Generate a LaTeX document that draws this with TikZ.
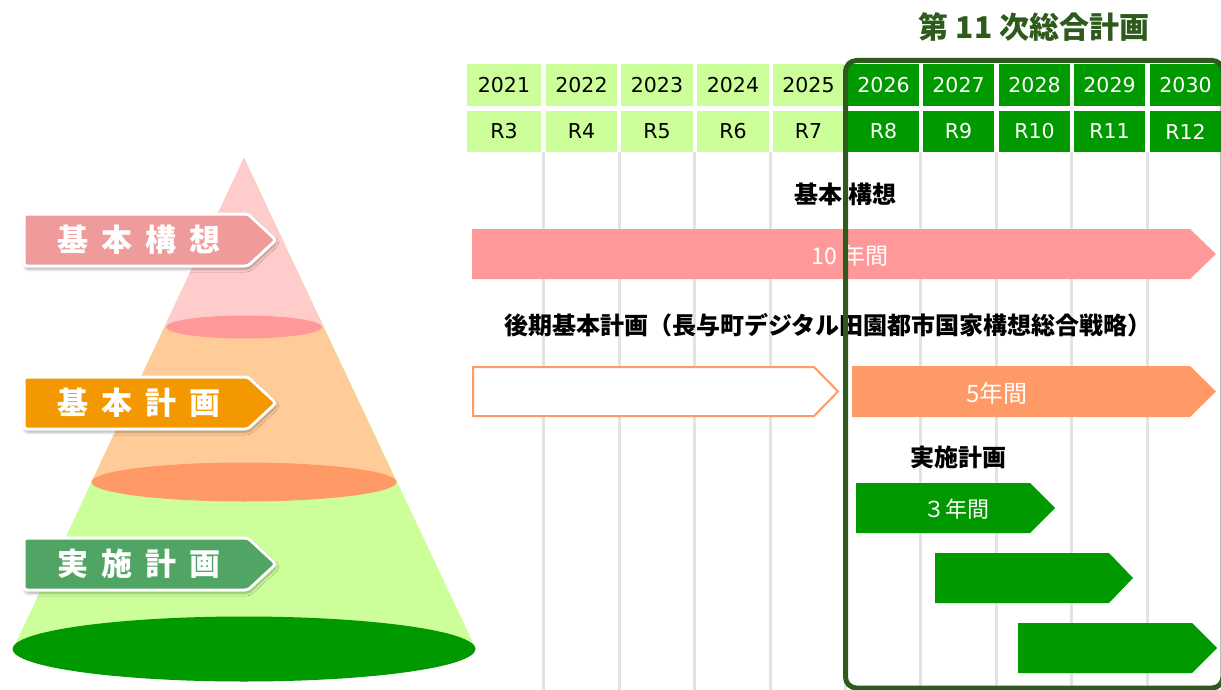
\documentclass[tikz,border=0pt]{standalone}
\usepackage{fontspec}
\newfontfamily\jp{Noto Sans CJK JP}
\newfontfamily\yr{DejaVu Sans}
\usetikzlibrary{shadows.blur}
\definecolor{lgreen}{HTML}{CCFF99}
\definecolor{dgreen}{HTML}{009900}
\definecolor{fgreen}{HTML}{2E5A1C}
\definecolor{pinkbar}{HTML}{FF9999}
\definecolor{pinklt}{HTML}{FFCCCC}
\definecolor{orangebar}{HTML}{FF9966}
\definecolor{orangelt}{HTML}{FFCC99}
\definecolor{tagpink}{HTML}{F09B9B}
\definecolor{tagorange}{HTML}{F39800}
\definecolor{taggreen}{HTML}{50A565}
\definecolor{gridgray}{HTML}{E3E3E3}
\tikzset{
  tagbox/.style={draw=white, line width=3, rounded corners=3,
    blur shadow={shadow xshift=1pt, shadow yshift=-3pt, shadow blur radius=3pt, shadow opacity=35}},
  tagtext/.style={text=white, font=\jp\bfseries\fontsize{31}{31}\selectfont, inner sep=0},
  yrtext/.style={font=\yr\fontsize{20.5}{20.5}\selectfont, inner sep=0},
  lbltext/.style={font=\jp\bfseries\fontsize{24}{24}\selectfont, inner sep=0},
  bartext/.style={text=white, font=\jp\fontsize{22}{22}\selectfont, inner sep=0},
}
\begin{document}
\begin{tikzpicture}[x=1pt,y=-1pt]
\useasboundingbox (0,0) rectangle (1221,690);
\clip (0,0) rectangle (1221,690);
% ---- cone ----
\fill[lgreen] (244,158) -- (13,649) -- (476,649) -- cycle;
\fill[dgreen] (244,649) ellipse [x radius=231.5, y radius=32.5];
\fill[orangelt] (244,158) -- (91.5,482) -- (396.5,482) -- cycle;
\fill[orangebar] (244,482) ellipse [x radius=152.5, y radius=19.5];
\fill[pinklt] (244,158) -- (164.5,327) -- (323.5,327) -- cycle;
\fill[pinkbar] (244,327) ellipse [x radius=78, y radius=11.5];
% ---- tags ----
\path[tagbox, fill=tagpink] (24,214) -- (248,214) -- (276,240) -- (248,266) -- (24,266) -- cycle;
\node[tagtext] (t1) at (139,240) {基\hspace{13pt}本\hspace{13pt}構\hspace{13pt}想};
\path[tagbox, fill=tagorange] (24,377) -- (248,377) -- (276,403) -- (248,429) -- (24,429) -- cycle;
\node[tagtext] (t2) at (139,403) {基\hspace{13pt}本\hspace{13pt}計\hspace{13pt}画};
\path[tagbox, fill=taggreen] (24,538) -- (248,538) -- (276,564) -- (248,590) -- (24,590) -- cycle;
\node[tagtext] (t3) at (139,564) {実\hspace{13pt}施\hspace{13pt}計\hspace{13pt}画};
% ---- grid lines ----
\foreach \gx in {543.5,619,694.5,770,845.5,920.5,996.5,1071.5,1147} {
  \draw[gridgray, line width=3] (\gx,152) -- (\gx,690);
}
% ---- header cells ----
\foreach \l/\r/\yy/\rr in {467/541/2021/R3, 546/617/2022/R4, 621/693/2023/R5, 697/769/2024/R6, 773/844/2025/R7} {
  \fill[lgreen] (\l,64) rectangle (\r,106);
  \fill[lgreen] (\l,111) rectangle (\r,152);
  \node[yrtext] at ({(\l+\r)/2},85.5) {\yy};
  \node[yrtext] at ({(\l+\r)/2},131.5) {\rr};
}
\foreach \l/\r/\yy/\rr in {848/919/2026/R8, 923/994/2027/R9, 999/1070/2028/R10, 1074/1145/2029/R11, 1150/1221/2030/R12} {
  \fill[dgreen] (\l,64) rectangle (\r,106);
  \fill[dgreen] (\l,111) rectangle (\r,152);
  \node[yrtext, text=white] at ({(\l+\r)/2},85.5) {\yy};
  \node[yrtext, text=white] at ({(\l+\r)/2},131.5) {\rr};
}
% ---- bars ----
\node[lbltext] (kk) at (845,194) {基本\hspace{6pt}構想};
\fill[pinkbar] (472,229) -- (1190,229) -- (1216,254) -- (1190,279) -- (472,279) -- cycle;
\node[bartext, font=\jp\fontsize{23}{23}\selectfont] (b1) at (850,256) {10 年間};
\node[lbltext] (kh) at (828,325) {後期基本計画（長与町デジタル田園都市国家構想総合戦略）};
\draw[orangebar, line width=2, fill=white] (473,367) -- (814,367) -- (838,391.5) -- (814,416) -- (473,416) -- cycle;
\fill[orangebar] (852,366) -- (1190,366) -- (1216,391.5) -- (1190,417) -- (852,417) -- cycle;
\node[bartext, font=\jp\fontsize{24}{24}\selectfont] (b2) at (997,393) {5年間};
\node[lbltext] (jk) at (958,457) {実施計画};
\fill[dgreen] (856,483) -- (1030,483) -- (1055,508) -- (1030,533) -- (856,533) -- cycle;
\node[bartext] (b3) at (956,509) {３年間};
\fill[dgreen] (935,553) -- (1109,553) -- (1133,578) -- (1109,603) -- (935,603) -- cycle;
\fill[dgreen] (1018,623) -- (1192,623) -- (1217,648) -- (1192,673) -- (1018,673) -- cycle;
% ---- frame and title ----
\draw[fgreen, line width=5, rounded corners=11] (845.5,60.5) rectangle (1223,688);
\node[font=\jp\bfseries\fontsize{30}{30}\selectfont, text=fgreen, inner sep=0] (title) at (1034,27) {第 11 次総合計画};
\end{tikzpicture}
\end{document}
